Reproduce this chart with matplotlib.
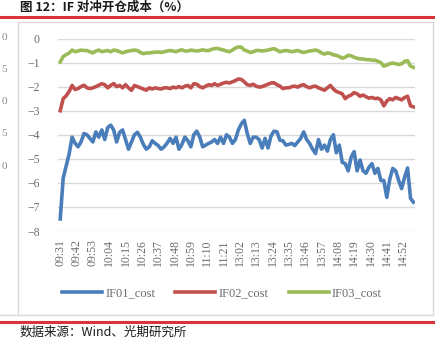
import numpy as np
import matplotlib
matplotlib.use("Agg")
import matplotlib.pyplot as plt
from matplotlib.lines import Line2D
from matplotlib.patches import Rectangle

# ---- data (sampled every 2 minutes of the 240 trading minutes) ----
tick_labels = ["09:31", "09:42", "09:53", "10:04", "10:15", "10:26", "10:37", "10:48",
               "10:59", "11:10", "11:21", "13:02", "13:13", "13:24", "13:35", "13:46",
               "13:57", "14:08", "14:19", "14:30", "14:41", "14:52"]

if01_cost = [-7.5, -5.8, -5.3, -4.8, -4.1, -4.35, -4.5, -4.3, -3.95, -4.0,
             -4.15, -4.3, -3.88, -4.1, -3.8, -4.2, -3.7, -3.6, -3.8, -4.3,
             -3.9, -3.8, -4.2, -4.6, -4.3, -4.0, -3.9, -4.1, -4.4, -4.6,
             -4.5, -4.25, -4.36, -4.45, -4.6, -4.5, -4.35, -4.15, -4.36, -4.1,
             -4.6, -4.4, -4.1, -4.25, -4.5, -4.0, -3.85, -4.1, -4.5, -4.43,
             -4.36, -4.3, -4.2, -4.36, -4.1, -4.36, -4.0, -4.1, -4.36, -4.2,
             -3.8, -3.55, -3.4, -3.95, -4.36, -4.1, -4.1, -4.2, -4.55, -4.15,
             -4.55, -4.05, -3.85, -3.88, -4.23, -4.25, -4.43, -4.4, -4.36, -4.45,
             -4.3, -4.15, -3.88, -4.2, -4.36, -4.6, -4.78, -4.2, -4.6, -4.43,
             -4.68, -4.2, -4.0, -4.75, -4.43, -5.15, -5.2, -5.5, -4.93, -4.7,
             -5.5, -5.05, -5.5, -5.6, -5.35, -5.2, -5.6, -5.4, -5.9, -5.9,
             -6.6, -5.85, -5.4, -5.5, -5.9, -6.24, -5.76, -5.38, -6.65, -6.8]

if02_cost = [-3.0, -2.5, -2.38, -2.2, -1.95, -2.12, -2.08, -2.0, -1.94, -2.05,
             -2.08, -2.05, -2.0, -1.94, -1.88, -1.92, -2.05, -1.95, -1.87, -2.0,
             -1.95, -2.05, -1.92, -2.05, -2.15, -1.95, -2.0, -2.05, -2.1, -2.15,
             -2.05, -2.1, -2.05, -2.08, -2.1, -2.05, -2.05, -2.08, -2.02, -2.05,
             -2.0, -2.05, -1.98, -1.95, -2.05, -1.88, -1.9, -2.0, -2.05, -1.98,
             -1.92, -1.95, -1.88, -1.95, -1.9, -1.85, -1.82, -1.85, -1.8, -1.75,
             -1.68, -1.7, -1.8, -1.92, -1.95, -1.9, -1.98, -2.02, -2.0, -1.95,
             -1.9, -1.85, -1.84, -1.92, -1.98, -2.08, -2.05, -2.05, -2.0, -1.98,
             -2.02, -1.95, -1.92, -2.0, -2.05, -2.0, -1.98, -2.05, -2.1, -2.15,
             -2.05, -1.95, -2.1, -2.2, -2.25, -2.3, -2.5, -2.4, -2.35, -2.25,
             -2.3, -2.4, -2.35, -2.42, -2.48, -2.45, -2.5, -2.48, -2.55, -2.8,
             -2.6, -2.5, -2.55, -2.45, -2.5, -2.55, -2.45, -2.4, -2.8, -2.84]

if03_cost = [-0.97, -0.75, -0.67, -0.6, -0.48, -0.55, -0.52, -0.48, -0.5, -0.5,
             -0.55, -0.6, -0.52, -0.48, -0.55, -0.52, -0.5, -0.55, -0.48, -0.5,
             -0.55, -0.6, -0.55, -0.52, -0.5, -0.48, -0.5, -0.58, -0.63, -0.6,
             -0.6, -0.58, -0.57, -0.56, -0.58, -0.55, -0.52, -0.5, -0.52, -0.55,
             -0.5, -0.47, -0.52, -0.52, -0.48, -0.5, -0.52, -0.5, -0.47, -0.5,
             -0.5, -0.45, -0.42, -0.41, -0.45, -0.48, -0.52, -0.55, -0.48, -0.4,
             -0.35, -0.36, -0.48, -0.52, -0.58, -0.55, -0.5, -0.5, -0.52, -0.5,
             -0.48, -0.45, -0.42, -0.48, -0.55, -0.52, -0.5, -0.52, -0.55, -0.52,
             -0.5, -0.55, -0.58, -0.55, -0.52, -0.5, -0.48, -0.52, -0.6, -0.65,
             -0.6, -0.62, -0.68, -0.7, -0.75, -0.82, -0.78, -0.7, -0.72, -0.78,
             -0.82, -0.85, -0.85, -0.88, -0.88, -0.9, -0.9, -0.95, -1.0, -1.15,
             -1.1, -1.05, -1.02, -1.05, -1.08, -1.05, -0.95, -0.92, -1.15, -1.2]

series_names = ["IF01_cost", "IF02_cost", "IF03_cost"]
colors = ["#4A7EBB", "#C0504D", "#9BBB59"]

W, H = 440, 352
fig = plt.figure(figsize=(4.4, 3.52), dpi=100)
fig.patch.set_facecolor("white")

cjk = ["Noto Sans CJK SC", "DejaVu Sans"]
serif = ["Liberation Serif", "DejaVu Serif"]
gray = "#6b6b6b"

def fx(px):
    return px / W

def fy(py):
    return 1 - py / H

# frame of the chart box
fig.add_artist(Rectangle((fx(18), fy(315)), fx(433) - fx(18), fy(22) - fy(315),
                         transform=fig.transFigure, fill=False, edgecolor="#d9d9d9", lw=1))
fig.add_artist(Line2D([0, fx(18)], [fy(315), fy(315)], transform=fig.transFigure,
                      color="#d9d9d9", lw=1))
# cut-off labels of the neighbouring chart
for yy, s in zip([38, 70, 102, 134, 166], ["0", "5", "0", "5", "0"]):
    fig.text(fx(7), fy(yy), s, ha="right", va="center", fontsize=8, color="#8a8a8a",
             family=serif)

# red rules
fig.add_artist(Line2D([0, fx(433)], [fy(17), fy(17)], transform=fig.transFigure,
                      color="#D9333B", lw=2.2))
fig.add_artist(Line2D([0, fx(433)], [fy(321.5), fy(321.5)], transform=fig.transFigure,
                      color="#D9333B", lw=2.2))

fig.text(fx(20), fy(7), "图 12：IF 对冲开仓成本（%）", ha="left", va="center",
         fontsize=9, fontweight="bold", family=cjk, color="#1a1a1a")
fig.text(fx(20), fy(332), "数据来源：Wind、光期研究所", ha="left", va="center",
         fontsize=9, family=cjk, color="#1a1a1a")

ax = fig.add_axes([fx(58), fy(231), fx(415) - fx(58), fy(38.5) - fy(231)])
ax.set_facecolor("white")

x = np.arange(0, 240, 2)
for vals, name, c in zip([if01_cost, if02_cost, if03_cost], series_names, colors):
    ax.plot(x, vals, color=c, lw=2.6, label=name, solid_joinstyle="round")

ax.set_ylim(-8, 0)
ax.set_xlim(-1.5, 239)
ax.set_yticks(np.arange(-8, 1, 1))
ax.yaxis.grid(True, color="#d9d9d9", lw=1)
ax.set_axisbelow(True)
for s in ax.spines.values():
    s.set_visible(False)
ax.tick_params(axis="both", length=0, colors=gray)
ax.tick_params(axis="y", pad=13, labelsize=8.5)
ax.tick_params(axis="x", pad=6, labelsize=8.5)
for lab in ax.get_yticklabels():
    lab.set_family(serif)

ax.set_xticks(np.arange(0, 240, 11)[:len(tick_labels)])
ax.set_xticklabels(tick_labels, rotation=90, family=serif, color=gray)

leg = fig.legend(loc="center", bbox_to_anchor=(fx(222), fy(293)), ncol=3, frameon=False,
                 handlelength=3.2, handletextpad=0.25, columnspacing=1.6,
                 prop={"family": serif, "size": 9})
for t in leg.get_texts():
    t.set_color(gray)
for h in leg.legend_handles:
    h.set_linewidth(2.6)

fig.savefig("out.png", dpi=100)
